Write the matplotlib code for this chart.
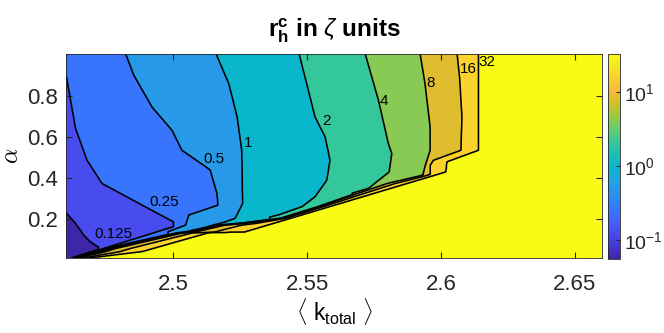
import numpy as np
import matplotlib
matplotlib.use('Agg')
import matplotlib.pyplot as plt
from matplotlib.colors import LinearSegmentedColormap, LogNorm
from matplotlib.cm import ScalarMappable

plt.rcParams['font.family'] = ['Liberation Sans', 'DejaVu Sans']
plt.rcParams['mathtext.fontset'] = 'custom'
plt.rcParams['mathtext.rm'] = 'Liberation Sans'
plt.rcParams['mathtext.it'] = 'Liberation Sans:italic'
plt.rcParams['mathtext.bf'] = 'Liberation Sans:bold'

# contour levels of r_h^c (zeta units)
levels = [0.125, 0.25, 0.5, 1, 2, 4, 8, 16, 32]

# contour lines: alpha (rising) and <k_total> along each line
a_0125 = [0.065, 0.09, 0.123, 0.18, 0.23, 0.30, 1.0]
k_0125 = [2.472, 2.469, 2.4665, 2.4634, 2.460, 2.455, 2.440]
a_025 = [0.06, 0.163, 0.187, 0.26, 0.373, 0.486, 0.64, 0.893, 1.0]
k_025 = [2.4745, 2.5001, 2.5001, 2.4895, 2.4733, 2.4677, 2.4634, 2.460, 2.457]
a_05 = [0.14, 0.171, 0.22, 0.268, 0.325, 0.438, 0.462, 0.534, 0.631, 0.744, 0.898, 1.0]
k_05 = [2.498, 2.5045, 2.5057, 2.5167, 2.5163, 2.5138, 2.5113, 2.5032, 2.4995, 2.492, 2.4852, 2.4822]
a_1 = [0.165, 0.185, 0.204, 0.22, 0.276, 0.534, 0.696, 0.857, 1.0]
k_1 = [2.5132, 2.519, 2.523, 2.5237, 2.5258, 2.5255, 2.5238, 2.5207, 2.516]
a_2 = [0.21, 0.22, 0.26, 0.308, 0.389, 0.486, 0.599, 0.696, 0.857, 1.0]
k_2 = [2.536, 2.5392, 2.548, 2.5529, 2.5573, 2.5585, 2.5567, 2.5529, 2.5498, 2.547]
a_4 = [0.325, 0.349, 0.429, 0.518, 0.567, 0.777, 1.0]
k_4 = [2.5667, 2.5729, 2.5806, 2.5816, 2.5803, 2.5766, 2.5717]
a_8 = [0.422, 0.454, 0.534, 0.647, 0.857, 1.0]
k_8 = [2.5934, 2.594, 2.5959, 2.5959, 2.594, 2.5922]
a_16 = [0.43, 0.462, 0.486, 0.534, 0.696, 0.89, 1.0]
k_16 = [2.5959, 2.5959, 2.5971, 2.6074, 2.6078, 2.6069, 2.606]
a_32 = [0.0, 0.01, 0.042, 0.134, 0.136, 0.429, 0.478, 0.534, 1.0]
k_32 = [2.465, 2.468, 2.4883, 2.5132, 2.5263, 2.6018, 2.6022, 2.614, 2.614]
# upper edge of the steep band in front of the no-solution region
a_top = [0.0, 0.058, 0.171, 0.18, 0.204, 0.26, 0.325, 0.373, 0.409, 0.422, 0.55, 1.0]
k_top = [2.4595, 2.4733, 2.5132, 2.523, 2.5392, 2.5529, 2.5667, 2.5772, 2.5903, 2.5934, 2.625, 2.625]

# contour labels
label_txt = ['0.125', '0.25', '0.5', '1', '2', '4', '8', '16', '32']
label_k = [2.4775, 2.4965, 2.5152, 2.528, 2.5572, 2.5786, 2.596, 2.6101, 2.6172]
label_a = [0.13, 0.284, 0.494, 0.569, 0.676, 0.774, 0.86, 0.928, 0.961]

clim = (2 ** -4.17, 32)

parula_pts = [
    (0.2422, 0.1504, 0.6603), (0.2706, 0.2147, 0.8364), (0.2813, 0.3006, 0.9414),
    (0.2699, 0.3892, 0.9906), (0.1963, 0.4847, 0.9892), (0.1687, 0.5703, 0.9359),
    (0.1248, 0.6459, 0.8883), (0.0297, 0.7082, 0.8163), (0.0964, 0.7500, 0.7120),
    (0.2161, 0.7843, 0.5923), (0.3909, 0.8029, 0.4354), (0.6174, 0.7876, 0.2612),
    (0.8203, 0.7498, 0.1535), (0.9728, 0.7298, 0.2394), (0.9892, 0.8136, 0.1885),
    (0.9597, 0.9135, 0.1423), (0.9769, 0.9839, 0.0805)]
pos = [i / 63 for i in range(0, 64, 4)] + [1.0]
parula = LinearSegmentedColormap.from_list('parula', list(zip(pos, parula_pts)))

# build the field row by row from the line positions
lines = [(a_0125, k_0125), (a_025, k_025), (a_05, k_05), (a_1, k_1),
         (a_2, k_2), (a_4, k_4), (a_8, k_8), (a_16, k_16)]
band_frac = [0.0, 0.04, 0.08, 0.12, 0.16, 0.20, 0.26, 0.55]
kk = np.linspace(2.46, 2.66, 801)
aa = np.linspace(0.01, 1.0, 397)
logz = np.empty((len(aa), len(kk)))
for j, a in enumerate(aa):
    t = np.interp(a, a_top, k_top)
    b = np.interp(a, a_32, k_32)
    xs = []
    for i, (al, kl) in enumerate(lines):
        xs.append(min(np.interp(a, al, kl), t + band_frac[i] * (b - t)))
    xs.append(b)
    xs = np.maximum.accumulate(np.array(xs)) + np.arange(len(xs)) * 1e-5
    knots_k = np.concatenate([[2.40], xs, [xs[-1] + 0.002, 2.70]])
    knots_v = np.concatenate([[-4.5], np.log2(levels), [6.5, 6.5]])
    logz[j] = np.interp(kk, knots_k, knots_v)
z = 2.0 ** logz

norm = LogNorm(*clim)
fill_levels = [2 ** -6] + levels + [2 ** 7]
band_colors = [parula(0.0)] + [parula(float(norm(v))) for v in levels]

fig = plt.figure(figsize=(6.64, 3.33), dpi=100)
ax = fig.add_axes([0.0999, 0.2243, 0.806, 0.6126])
ax.contourf(kk, aa, z, levels=fill_levels, colors=band_colors)
ax.contour(kk, aa, z, levels=levels, colors='k', linewidths=1.15)
for txt, k, a in zip(label_txt, label_k, label_a):
    ax.text(k, a, txt, fontsize=11, ha='center', va='center', color='k')

ax.set_xlim(2.46, 2.66)
ax.set_ylim(0.01, 1.0)
ax.set_xticks([2.5, 2.55, 2.6, 2.65])
ax.set_xticklabels(['2.5', '2.55', '2.6', '2.65'])
ax.set_yticks([0.2, 0.4, 0.6, 0.8])
ax.set_yticklabels(['0.2', '0.4', '0.6', '0.8'])
ax.tick_params(direction='in', length=4, top=True, right=True, labelsize=16,
               colors='#262626')
ax.tick_params(axis='x', pad=11)
ax.tick_params(axis='y', pad=6)
for s in ax.spines.values():
    s.set_color('#262626')
    s.set_linewidth(0.6)

ax.set_title(r'$\mathbf{r}_\mathbf{h}^\mathbf{c}$ in $\zeta$ units', fontsize=17.5,
             fontweight='bold', pad=13)
ax.set_xlabel(r'$\langle$ k$_{\mathrm{total}}$ $\rangle$', fontsize=16.5, labelpad=1)
ax.set_ylabel(r'$\alpha$', fontsize=17, math_fontfamily='cm', labelpad=3)

cax = fig.add_axes([0.9161, 0.2222, 0.0172, 0.6147])
cb = fig.colorbar(ScalarMappable(norm=norm, cmap=parula), cax=cax)
cb.set_ticks([0.1, 1, 10])
cb.minorticks_off()
cax.tick_params(direction='in', length=3, labelsize=14, pad=3, colors='#262626')
cb.outline.set_edgecolor('#262626')
cb.outline.set_linewidth(0.6)

fig.savefig('out.png', dpi=100)
